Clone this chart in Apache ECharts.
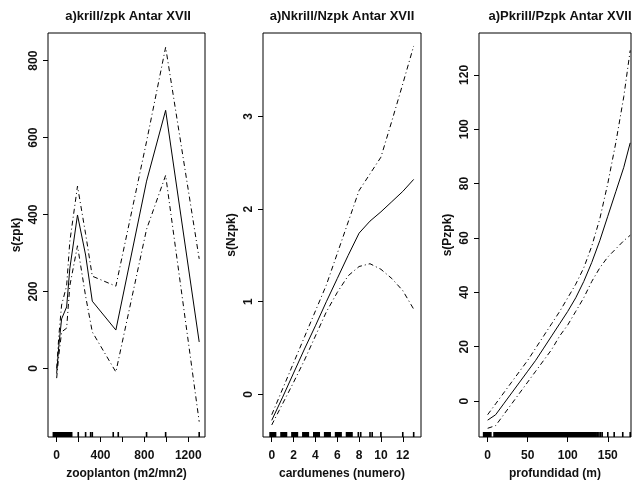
<!DOCTYPE html>
<html>
<head>
<meta charset="utf-8">
<script src="https://cdn.jsdelivr.net/npm/echarts@6/dist/echarts.min.js"></script>
<style>
  html, body { margin: 0; padding: 0; background: #fff; }
  #chart { width: 633px; height: 485px; }
</style>
</head>
<body>
<div id="chart"></div>
<script>
// panel 1: krill / zpk vs zooplanton
var zooX   = [0, 20, 45, 91, 120, 190, 264, 325, 540, 820, 994, 1300];
var zooFit = [-13, 60, 129, 160, 260, 399, 295, 175, 100, 487, 671, 69];
var zooUp  = [0, 85, 165, 215, 330, 474, 350, 240, 214, 590, 835, 285];
var zooLo  = [-25, 35, 95, 105, 215, 319, 188, 95, -9, 362, 502, -138];
var zooRug = [[-30, 137], [197, 197], [264, 264], [310, 310], [325, 325], [516, 516], [562, 562], [820, 820], [994, 994], [1300, 1300]];
var zooXTicks = [0, 200, 400, 600, 800, 1000, 1200];
var zooXLabels = [0, 400, 800, 1200];
var zooYTicks = [0, 200, 400, 600, 800];

// panel 2: Nkrill / Nzpk vs cardumenes
var carX   = [0, 1, 2, 3, 4, 5, 6, 7, 8, 9, 10, 11, 12, 13];
var carFit = [-0.28, -0.03, 0.23, 0.49, 0.74, 1.0, 1.25, 1.5, 1.74, 1.87, 1.97, 2.08, 2.19, 2.32];
var carUp  = [-0.22, 0.06, 0.34, 0.62, 0.9, 1.18, 1.52, 1.86, 2.2, 2.38, 2.56, 2.95, 3.35, 3.76];
var carLo  = [-0.33, -0.1, 0.13, 0.37, 0.63, 0.89, 1.1, 1.28, 1.38, 1.41, 1.35, 1.25, 1.12, 0.92];
var carRug = [[-0.15, 0.35], [0.85, 1.35], [1.85, 2.35], [2.85, 3.35], [3.85, 4.35], [4.85, 5.35], [5.85, 6.35], [6.85, 7.35],
              [7.93, 7.93], [8.15, 8.15], [9.0, 9.0], [9.2, 9.2], [10, 10], [12, 12], [13, 13]];
var carXTicks = [0, 2, 4, 6, 8, 10, 12];
var carYTicks = [0, 1, 2, 3];

// panel 3: Pkrill / Pzpk vs profundidad
var proX   = [0, 10, 20, 30, 40, 50, 60, 70, 80, 90, 100, 110, 120, 130, 140, 150, 160, 170, 178];
var proFit = [-7, -5, -1, 3, 7, 11, 15, 19.5, 24, 28.5, 33, 38, 44, 51, 59, 68, 77, 86, 95];
var proUp  = [-5, -1, 3, 7, 11, 15, 19.5, 24, 28.5, 33, 38, 43, 49, 57, 67, 80, 95, 112, 129];
var proLo  = [-10, -9, -5, -1, 3, 7, 11, 15, 19, 24, 28, 33, 38, 44, 49, 53, 56, 59, 61];
var proRug = [[-5, 4], [8, 135.5], [137.5, 137.5], [139, 139], [141, 141], [143, 143], [150, 150], [158, 158], [168.7, 168.7], [178, 178]];
var proXTicks = [0, 50, 100, 150];
var proYTicks = [0, 20, 40, 60, 80, 100, 120];

var titles = ["a)krill/zpk Antar XVII", "a)Nkrill/Nzpk Antar XVII", "a)Pkrill/Pzpk Antar XVII"];
var xNames = ["zooplanton (m2/mn2)", "cardumenes (numero)", "profundidad (m)"];
var yNames = ["s(zpk)", "s(Nzpk)", "s(Pzpk)"];

var font = "Liberation Sans";
var ink = "#111";
var dashDot = [5, 3, 1, 3];

function pairs(xs, ys) {
  return xs.map(function (x, i) { return [x, ys[i]]; });
}

function curve(idx, xs, ys, dashed) {
  return {
    type: "line",
    xAxisIndex: idx,
    yAxisIndex: idx,
    data: pairs(xs, ys),
    showSymbol: false,
    silent: true,
    lineStyle: { color: "#000", width: 1, type: dashed ? dashDot : "solid" },
  };
}

function rug(idx, ranges) {
  return {
    type: "custom",
    xAxisIndex: idx,
    yAxisIndex: idx,
    silent: true,
    data: ranges.map(function (r) { return [r[0], r[1], 0]; }),
    encode: { x: [0, 1], y: 2 },
    renderItem: function (params, api) {
      var x0 = api.coord([api.value(0), api.value(2)])[0];
      var x1 = api.coord([api.value(1), api.value(2)])[0];
      var bottom = params.coordSys.y + params.coordSys.height;
      return {
        type: "rect",
        shape: { x: x0 - 0.8, y: bottom - 5, width: x1 - x0 + 1.6, height: 5 },
        style: { fill: "#000" },
      };
    },
  };
}

function plain(v) { return String(v); }

function xAxis(idx, min, max, ticks, labels) {
  return {
    type: "value", gridIndex: idx, min: min, max: max,
    name: xNames[idx], nameLocation: "middle", nameGap: 31,
    nameTextStyle: { fontFamily: font, fontWeight: "bold", fontSize: 12, color: ink },
    axisLine: { show: false, onZero: false },
    axisTick: { show: true, length: 5, customValues: ticks, lineStyle: { color: "#000" } },
    axisLabel: { customValues: labels, formatter: plain, margin: 13, fontFamily: font, fontWeight: "bold", fontSize: 12, color: ink },
    splitLine: { show: false },
  };
}

function yAxis(idx, min, max, ticks) {
  return {
    type: "value", gridIndex: idx, min: min, max: max,
    name: yNames[idx], nameLocation: "middle", nameGap: 25,
    nameTextStyle: { fontFamily: font, fontWeight: "bold", fontSize: 12, color: ink },
    axisLine: { show: false, onZero: false },
    axisTick: { show: true, length: 5, customValues: ticks, lineStyle: { color: "#000" } },
    axisLabel: { customValues: ticks, formatter: plain, rotate: 90, margin: 8, fontFamily: font, fontWeight: "bold", fontSize: 12, color: ink },
    splitLine: { show: false },
  };
}

function grid(left, width) {
  return { left: left, top: 33, width: width, height: 406, show: true, borderColor: "#000", borderWidth: 1, backgroundColor: "transparent" };
}

function title(text, center) {
  return { text: text, left: center, top: 5, textAlign: "center",
    textStyle: { fontFamily: font, fontWeight: "bold", fontSize: 13, color: ink } };
}

var chart = echarts.init(document.getElementById("chart"), null, { renderer: "canvas" });
var option = {
  animation: false,
  backgroundColor: "#fff",
  title: [title(titles[0], 123), title(titles[1], 337), title(titles[2], 555)],
  grid: [grid(48, 157), grid(263, 158), grid(479, 152)],
  xAxis: [
    xAxis(0, -79, 1353, zooXTicks, zooXLabels),
    xAxis(1, -0.8, 13.67, carXTicks, carXTicks),
    xAxis(2, -10.8, 179, proXTicks, proXTicks),
  ],
  yAxis: [
    yAxis(0, -178, 872, zooYTicks),
    yAxis(1, -0.46, 3.9, carYTicks),
    yAxis(2, -13.2, 135.4, proYTicks),
  ],
  series: [
    curve(0, zooX, zooFit, false), curve(0, zooX, zooUp, true), curve(0, zooX, zooLo, true), rug(0, zooRug),
    curve(1, carX, carFit, false), curve(1, carX, carUp, true), curve(1, carX, carLo, true), rug(1, carRug),
    curve(2, proX, proFit, false), curve(2, proX, proUp, true), curve(2, proX, proLo, true), rug(2, proRug),
  ],
};
chart.setOption(option);
</script>
</body>
</html>
